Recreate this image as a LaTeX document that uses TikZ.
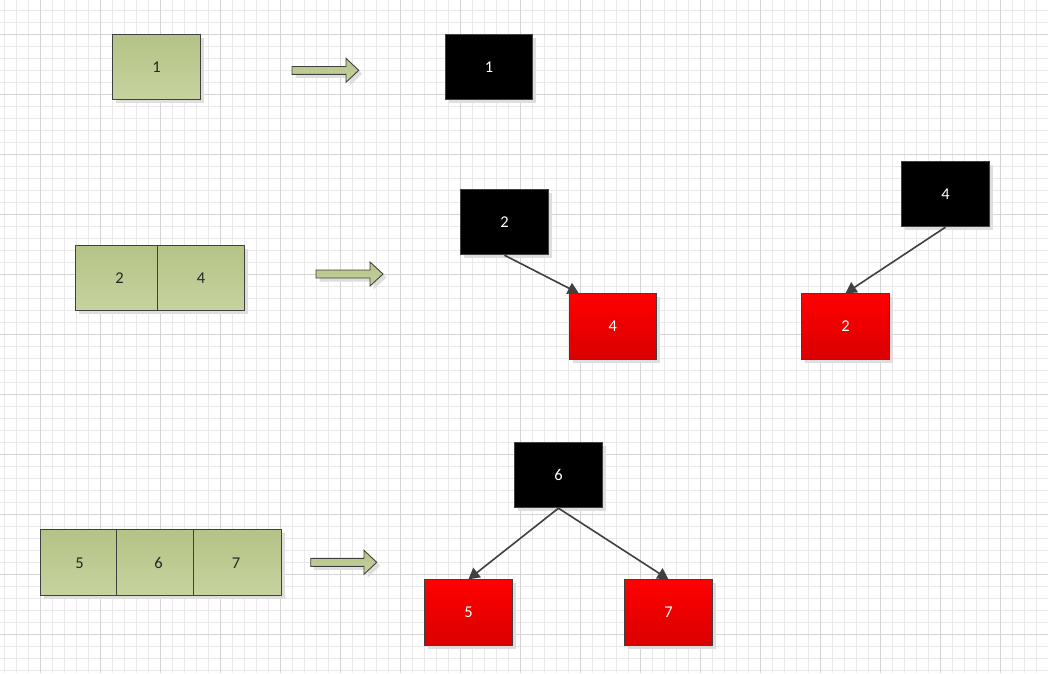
\documentclass[tikz,border=0pt]{standalone}
\usepackage{fontspec}
\setmainfont{Carlito}
\usetikzlibrary{shadows,arrows.meta,calc}
\definecolor{gtop}{RGB}{180,195,134}
\definecolor{gbot}{RGB}{198,211,160}
\definecolor{rtop}{RGB}{255,0,0}
\definecolor{rbot}{RGB}{218,0,0}
\definecolor{edge}{RGB}{64,64,64}
\definecolor{gridminor}{RGB}{233,233,233}
\definecolor{gridmajor}{RGB}{212,212,212}
\definecolor{shadowc}{RGB}{222,222,222}
\tikzset{
  shd/.style={drop shadow={shadow xshift=3.5pt,shadow yshift=-3.5pt,fill=shadowc,opacity=1}},
  box/.style={rectangle,draw=edge,line width=0.9pt,inner sep=0pt,anchor=north west,
    font=\fontsize{16.5}{19}\selectfont,shd},
  gbox/.style={box,top color=gtop,bottom color=gbot,text=black!85},
  bbox/.style={box,fill=black,text=white,minimum width=87.4pt,minimum height=65pt},
  rbox/.style={box,top color=rtop,bottom color=rbot,text=white,minimum width=87.4pt,minimum height=65.5pt},
  conn/.style={draw=edge,line width=1.6pt,-{Triangle[length=11pt,width=12pt]}},
  blockarrow/.style={draw=edge,line width=0.9pt,top color=gtop,bottom color=gbot,shd,line join=miter},
  minor/.style={draw=gridminor,line width=0.8pt},
  major/.style={draw=gridmajor,line width=0.8pt}
}
\begin{document}
\begin{tikzpicture}[x=1pt,y=-1pt]
\useasboundingbox (0,0) rectangle (1048,673);
\fill[white] (0,0) rectangle (1048,673);
% grid
\foreach \i in {0,...,87} \draw[minor] ({4.5+12*\i},0) -- ({4.5+12*\i},673);
\foreach \i in {0,...,55} \draw[minor] (0,{10.3+12*\i}) -- (1048,{10.3+12*\i});
\foreach \i in {0,...,17} \draw[major] ({40.5+60*\i},0) -- ({40.5+60*\i},673);
\foreach \i in {0,...,11} \draw[major] (0,{34.3+60*\i}) -- (1048,{34.3+60*\i});

% row 1
\node[gbox,minimum width=88pt,minimum height=65pt] (g1) at (112,34) {1};
\path[blockarrow] (292,66.5) -- (346,66.5) -- (346,58.3) -- (358.7,70.3) -- (346,82.3) -- (346,74.3) -- (292,74.3) -- cycle;
\node[bbox] (b1) at (445,34) {1};

% row 2
\node[gbox,minimum width=82pt,minimum height=65pt] (g2) at (75,245) {\hspace*{6pt}2};
\node[gbox,minimum width=87pt,minimum height=65pt] (g4) at (157,245) {4};
\path[blockarrow] (316,270) -- (370,270) -- (370,262) -- (383,274) -- (370,286) -- (370,278) -- (316,278) -- cycle;
\node[bbox] (b2) at (460.3,189.3) {2};
\node[rbox] (r4) at (568.7,293.3) {4};
\node[bbox] (b4) at (901.3,161.3) {4};
\node[rbox] (r2) at (801.3,293.3) {2};
\draw[conn] (b2.south) -- ([xshift=-34pt]r4.north);
\draw[conn] (b4.south) -- (r2.north);

% row 3
\node[gbox,minimum width=75.4pt,minimum height=66pt] (g5) at (40.3,529.3) {\hspace*{2pt}5};
\node[gbox,minimum width=77.6pt,minimum height=66pt] (g6) at (115.7,529.3) {\hspace*{7pt}6};
\node[gbox,minimum width=87.4pt,minimum height=66pt] (g7) at (193.3,529.3) {7\hspace*{3pt}};
\path[blockarrow] (310.7,558.3) -- (364,558.3) -- (364,550.3) -- (376.7,562.3) -- (364,574.3) -- (364,566.3) -- (310.7,566.3) -- cycle;
\node[bbox] (b6) at (514.3,442.3) {6};
\node[rbox] (r5) at (424.3,579.3) {5};
\node[rbox] (r7) at (624.3,579.3) {7};
\draw[conn] (b6.south) -- (r5.north);
\draw[conn] (b6.south) -- (r7.north);
\end{tikzpicture}
\end{document}
